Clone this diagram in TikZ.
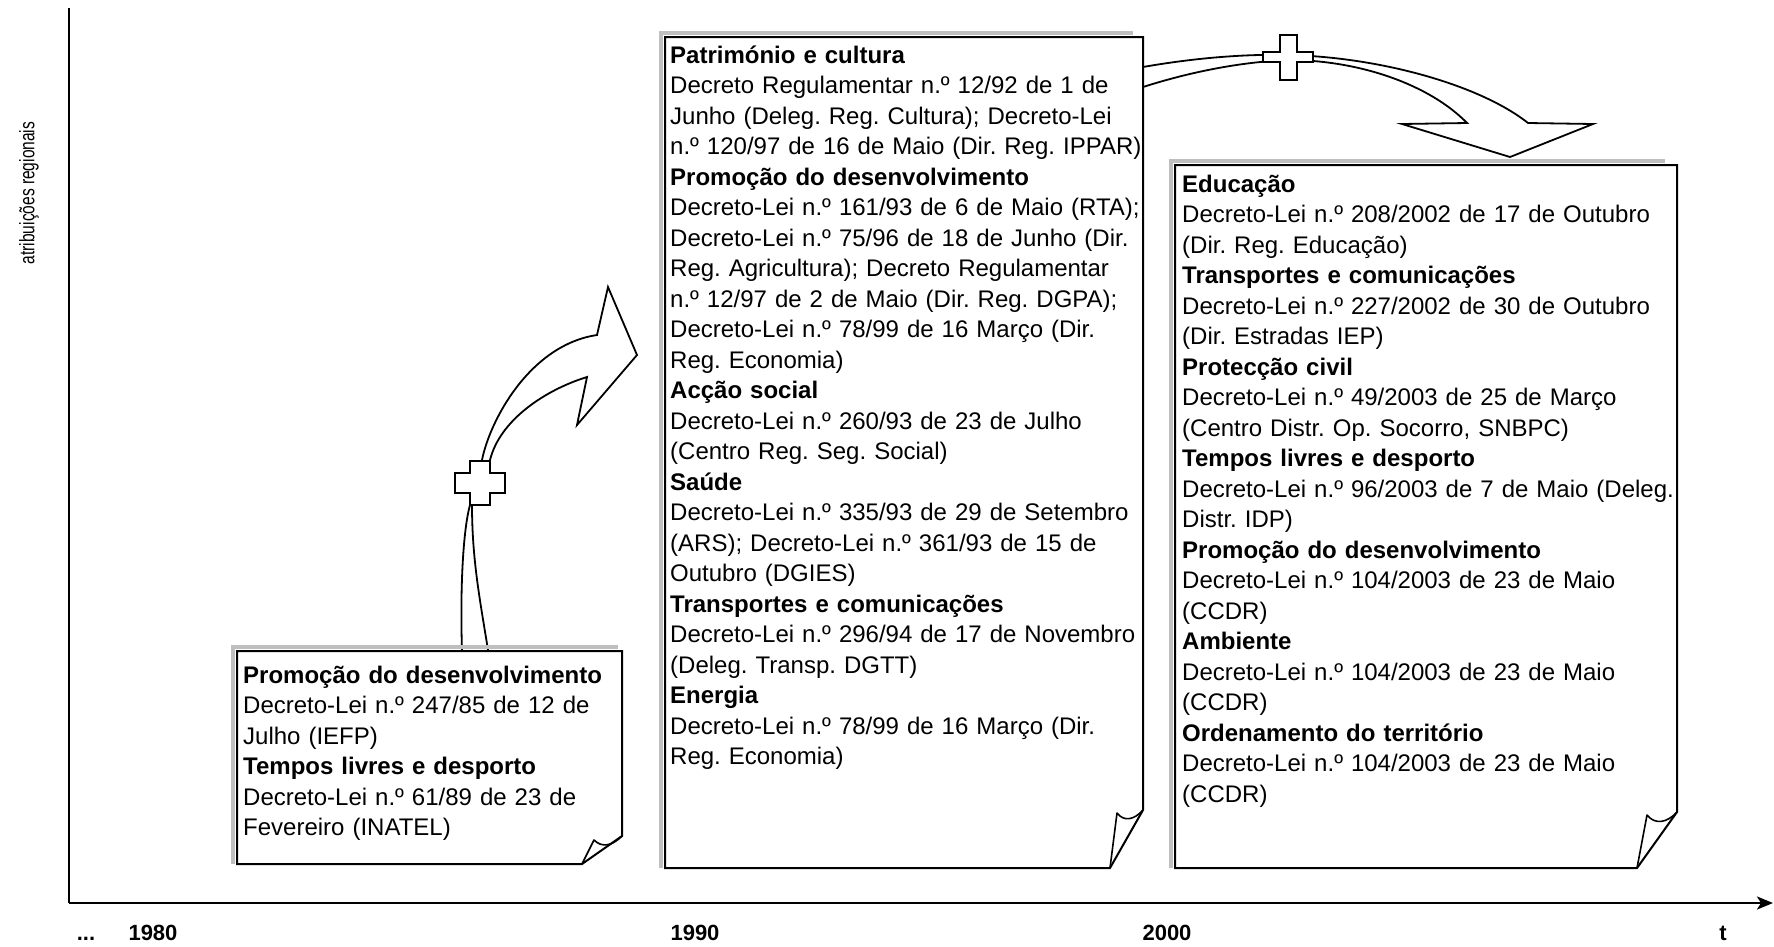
\documentclass[tikz,border=0pt]{standalone}
\usepackage{fontspec}
\usepackage{graphicx}
\setmainfont{Liberation Sans}
\usetikzlibrary{arrows.meta}
\frenchspacing
\begin{document}
\begin{tikzpicture}[x=1pt,y=-1pt,
  boxline/.style={line width=2pt, line join=miter, fill=white},
  foldline/.style={line width=1.6pt, line join=round},
  graystrip/.style={line width=3.5pt, gray!50},
  boxtext/.style={anchor=north west, inner sep=0pt, text width=520pt, align=left, font=\fontsize{24}{30.5}\selectfont\frenchspacing},
  arrowshape/.style={line width=1.8pt, line join=miter},
  crossshape/.style={line width=1.8pt, fill=white, line join=miter},
  axisline/.style={line width=2.5pt},
  yearlbl/.style={anchor=base, inner sep=0pt, font=\fontsize{22}{26}\selectfont\bfseries}
]
\useasboundingbox (0,0) rectangle (1774,946);

% axes
\coordinate (origin) at (69,903);
\coordinate (ytop) at (69,8);
\coordinate (xend) at (1773,903);
\draw[axisline] (ytop) -- (origin);
\draw[axisline, -{Stealth[length=16pt,width=13pt,inset=4pt]}] (origin) -- (xend);

\node[rotate=90, inner sep=0pt, font=\fontsize{21}{24}\selectfont] (ylabel) at (29,193) {\scalebox{0.74}[1]{atribuições regionais}};
\node[yearlbl] (dots) at (86,940) {...};
\node[yearlbl] (y1980) at (153,940) {1980};
\node[yearlbl] (y1990) at (695,940) {1990};
\node[yearlbl] (y2000) at (1167,940) {2000};
\node[yearlbl] (tl) at (1723,940) {t};

% lower-left curved arrow
\draw[arrowshape] (462,650) .. controls (460,590) and (463,530) .. (470,505)
  .. controls (473,488) and (478,470) .. (482,460)
  .. controls (490,420) and (530,345) .. (597,335)
  -- (608,287) -- (637,355) -- (577,425) -- (587,377)
  .. controls (545,390) and (500,420) .. (490,460)
  .. controls (485,480) and (476,495) .. (472,505)
  .. controls (472,560) and (480,600) .. (488,650);
\draw[crossshape] (470,461) -- (490,461) -- (490,473) -- (505,473) -- (505,493) -- (490,493)
  -- (490,505) -- (470,505) -- (470,493) -- (455,493) -- (455,473) -- (470,473) -- cycle;

% top curved arrow
\draw[arrowshape] (1143,67) .. controls (1200,57) and (1250,54) .. (1288,55)
  .. controls (1380,57) and (1480,85) .. (1528,123)
  -- (1593,124) -- (1510,157) -- (1402,124) -- (1467,123)
  .. controls (1430,85) and (1360,60) .. (1288,60)
  .. controls (1240,62) and (1190,72) .. (1143,87);
\draw[crossshape] (1280,35) -- (1297,35) -- (1297,52) -- (1313,52) -- (1313,62) -- (1297,62)
  -- (1297,80) -- (1280,80) -- (1280,62) -- (1263,62) -- (1263,52) -- (1280,52) -- cycle;

% box 1
\draw[graystrip] (233,864) -- (233,647) -- (618,647);
\draw[boxline] (237,651) -- (622,651) -- (622,836) -- (582,864) -- (237,864) -- cycle;
\draw[foldline] (582,864) -- (594,840) .. controls (602,848) and (612,846) .. (622,836);
\node[boxtext] (b1) at (243,661.7) {\noindent\strut\textbf{Promoção do desenvolvimento}\\
Decreto-Lei n.º 247/85 de 12 de\\
Julho (IEFP)\\
\textbf{Tempos livres e desporto}\\
Decreto-Lei n.º 61/89 de 23 de\\
Fevereiro (INATEL)};

% box 2
\draw[graystrip] (661,868) -- (661,33) -- (1133,33);
\draw[boxline] (665,37) -- (1143,37) -- (1143,810) -- (1110,868) -- (665,868) -- cycle;
\draw[foldline] (1110,868) -- (1117,813) .. controls (1124,822) and (1134,820) .. (1143,810);
\node[boxtext] (b2) at (670,41.7) {\noindent\strut\textbf{Património e cultura}\\
Decreto Regulamentar n.º 12/92 de 1 de\\
Junho (Deleg. Reg. Cultura); Decreto-Lei\\
n.º 120/97 de 16 de Maio (Dir. Reg. IPPAR)\\
\textbf{Promoção do desenvolvimento}\\
Decreto-Lei n.º 161/93 de 6 de Maio (RTA);\\
Decreto-Lei n.º 75/96 de 18 de Junho (Dir.\\
Reg. Agricultura); Decreto Regulamentar\\
n.º 12/97 de 2 de Maio (Dir. Reg. DGPA);\\
Decreto-Lei n.º 78/99 de 16 Março (Dir.\\
Reg. Economia)\\
\textbf{Acção social}\\
Decreto-Lei n.º 260/93 de 23 de Julho\\
(Centro Reg. Seg. Social)\\
\textbf{Saúde}\\
Decreto-Lei n.º 335/93 de 29 de Setembro\\
(ARS); Decreto-Lei n.º 361/93 de 15 de\\
Outubro (DGIES)\\
\textbf{Transportes e comunicações}\\
Decreto-Lei n.º 296/94 de 17 de Novembro\\
(Deleg. Transp. DGTT)\\
\textbf{Energia}\\
Decreto-Lei n.º 78/99 de 16 Março (Dir.\\
Reg. Economia)};

% box 3
\draw[graystrip] (1171,868) -- (1171,161) -- (1665,161);
\draw[boxline] (1175,165) -- (1677,165) -- (1677,812) -- (1637,868) -- (1175,868) -- cycle;
\draw[foldline] (1637,868) -- (1647,815) .. controls (1655,825) and (1667,823) .. (1677,812);
\node[boxtext] (b3) at (1182,170.7) {\noindent\strut\textbf{Educação}\\
Decreto-Lei n.º 208/2002 de 17 de Outubro\\
(Dir. Reg. Educação)\\
\textbf{Transportes e comunicações}\\
Decreto-Lei n.º 227/2002 de 30 de Outubro\\
(Dir. Estradas IEP)\\
\textbf{Protecção civil}\\
Decreto-Lei n.º 49/2003 de 25 de Março\\
(Centro Distr. Op. Socorro, SNBPC)\\
\textbf{Tempos livres e desporto}\\
Decreto-Lei n.º 96/2003 de 7 de Maio (Deleg.\\
Distr. IDP)\\
\textbf{Promoção do desenvolvimento}\\
Decreto-Lei n.º 104/2003 de 23 de Maio\\
(CCDR)\\
\textbf{Ambiente}\\
Decreto-Lei n.º 104/2003 de 23 de Maio\\
(CCDR)\\
\textbf{Ordenamento do território}\\
Decreto-Lei n.º 104/2003 de 23 de Maio\\
(CCDR)};
\end{tikzpicture}
\end{document}
